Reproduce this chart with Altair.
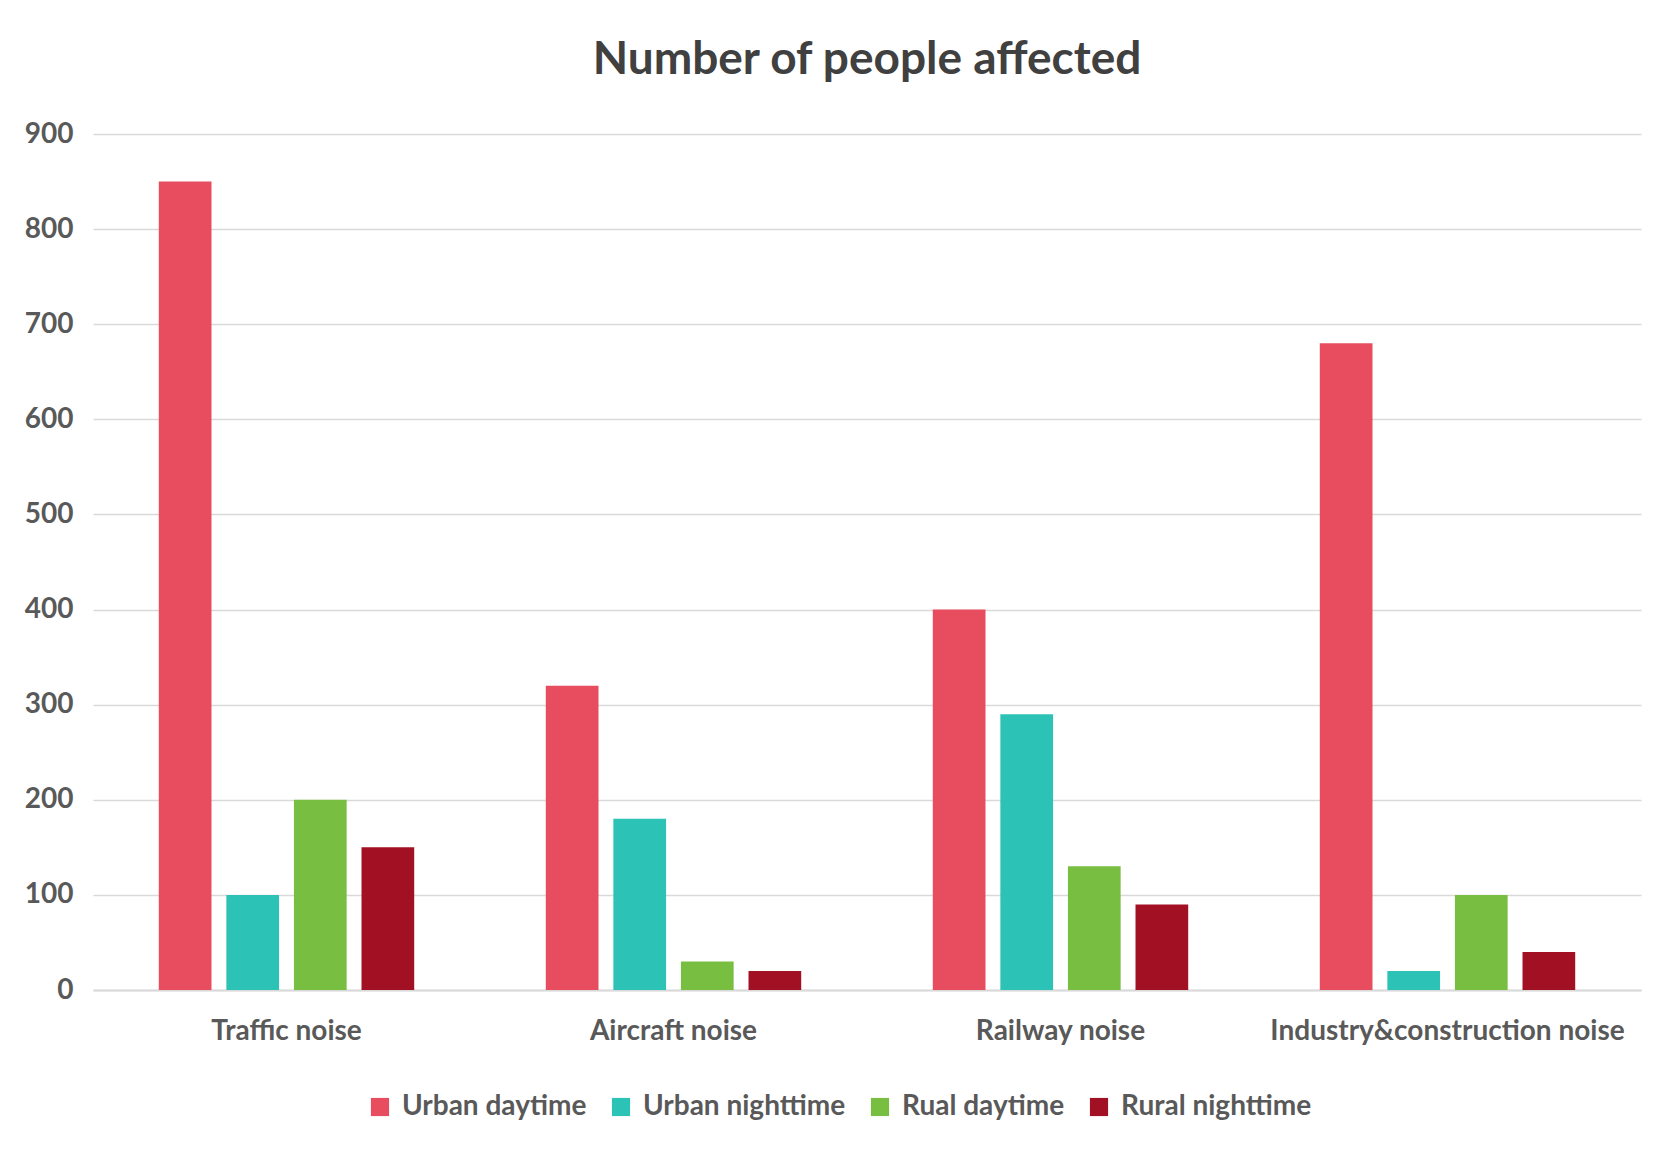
import altair as alt
import pandas as pd

noise_types = ["Traffic noise", "Aircraft noise", "Railway noise", "Industry&construction noise"]
groups = ["Urban daytime", "Urban nighttime", "Rual daytime", "Rural nighttime"]
urban_day = [850, 320, 400, 680]
urban_night = [100, 180, 290, 20]
rural_day = [200, 30, 130, 100]
rural_night = [150, 20, 90, 40]
colors = ["#E84C5F", "#2CC3B6", "#78BF41", "#A21024"]

rows = []
for series, vals in zip(groups, [urban_day, urban_night, rural_day, rural_night]):
    for cat, v in zip(noise_types, vals):
        rows.append({"type": cat, "group": series, "value": v})
df = pd.DataFrame(rows)

font = "Lato"

chart = alt.Chart(df).mark_bar().encode(
    x=alt.X("type:N", sort=noise_types, title=None,
            scale=alt.Scale(paddingInner=0.34, paddingOuter=0.17),
            axis=alt.Axis(labelAngle=0, labelFontSize=28, labelFontWeight="bold",
                          labelColor="#595959", labelPadding=27, labelLimit=0,
                          ticks=False, domainColor="#D9D9D9", domainWidth=2, grid=False)),
    xOffset=alt.XOffset("group:N", sort=groups,
                        scale=alt.Scale(paddingInner=0.22, paddingOuter=0)),
    y=alt.Y("value:Q", title=None,
            scale=alt.Scale(domain=[0, 900]),
            axis=alt.Axis(values=list(range(0, 901, 100)), labelFontSize=28,
                          labelFontWeight="bold", labelColor="#595959",
                          labelPadding=20, ticks=False, domain=False,
                          gridColor="#D9D9D9", gridWidth=1.5)),
    color=alt.Color("group:N", sort=groups,
                    scale=alt.Scale(domain=groups, range=colors),
                    legend=alt.Legend(orient="none", direction="horizontal", title=None,
                                      legendX=273, legendY=959,
                                      symbolType="square", symbolSize=330,
                                      symbolStrokeWidth=0, labelFontSize=28,
                                      labelFontWeight="bold", labelColor="#595959",
                                      labelLimit=0, columnPadding=20, labelOffset=8)),
).properties(
    width=1548,
    height=856,
    padding={"left": 16, "top": 29, "right": 20, "bottom": 10},
    title=alt.TitleParams("Number of people affected", fontSize=46, fontWeight="bold",
                          color="#404040", offset=36, anchor="middle", font=font),
).configure(
    font=font
).configure_view(
    stroke=None
)

chart.save("out.html", embed_options={"renderer": "svg", "actions": False})
